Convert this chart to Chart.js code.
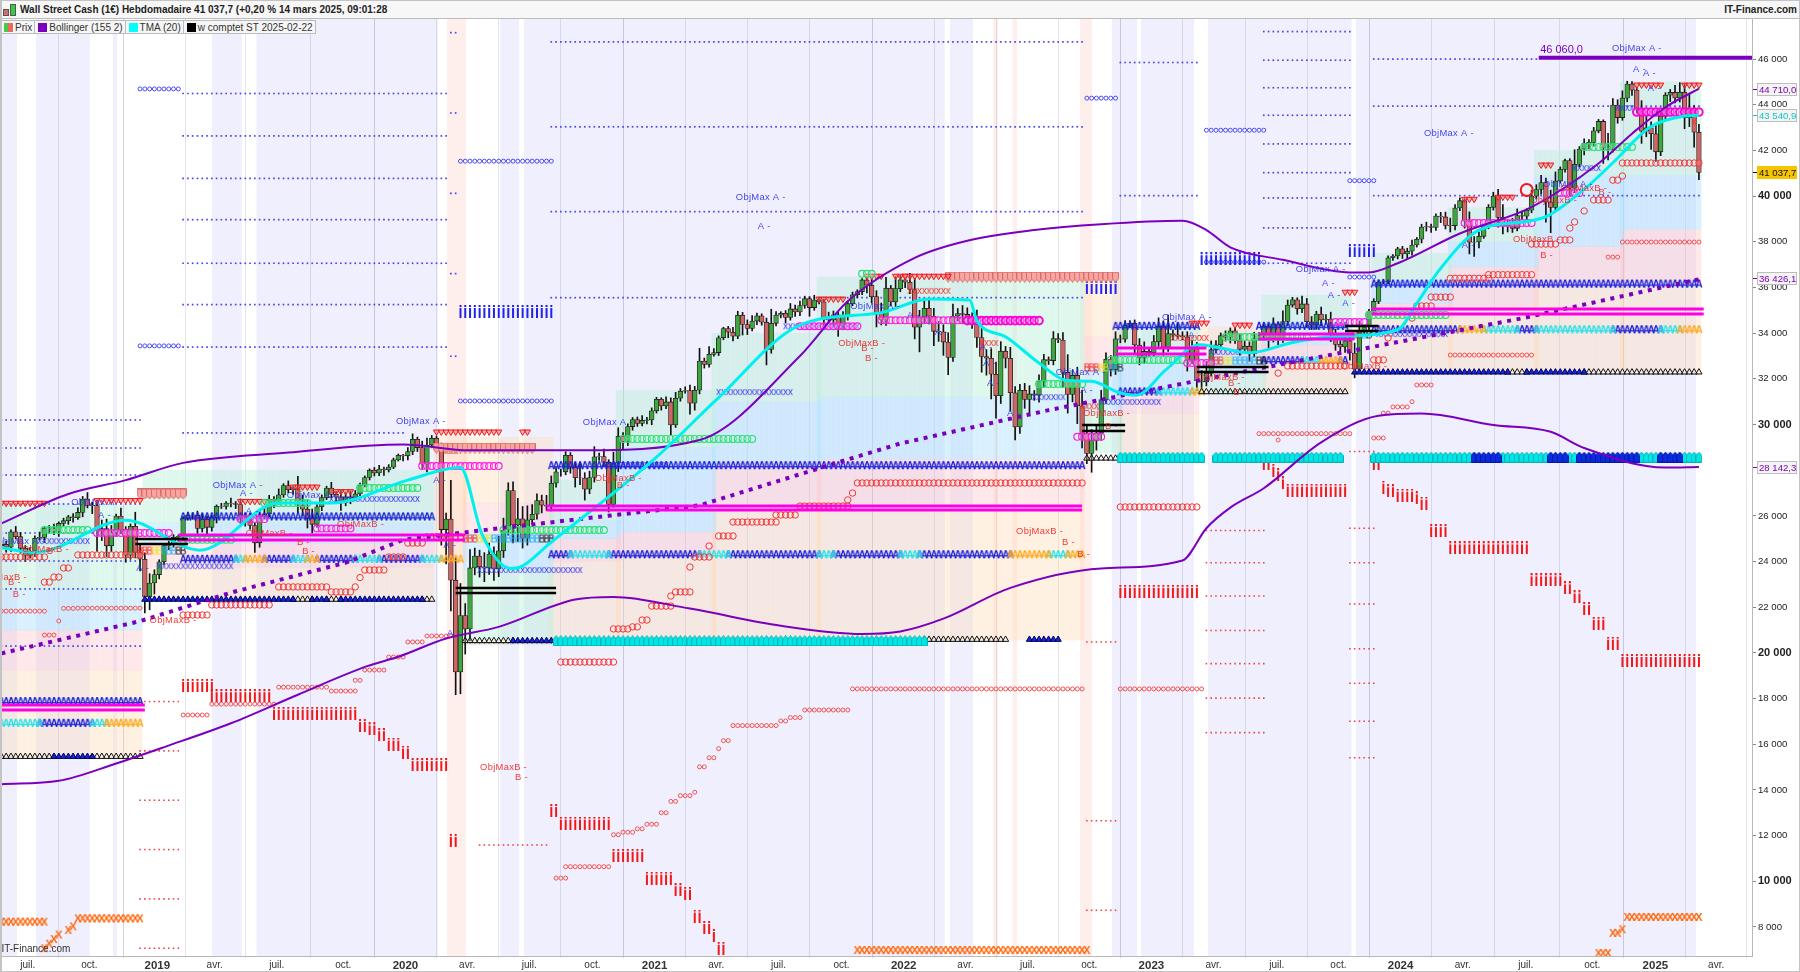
<!DOCTYPE html>
<html lang="fr">
<head>
<meta charset="utf-8">
<title>Wall Street Cash (1€) Hebdomadaire</title>
<script src="https://cdn.jsdelivr.net/npm/chart.js@4"></script>
<style>
html, body { margin: 0; padding: 0; background: #fff; overflow: hidden; }
body { width: 1800px; height: 972px; position: relative; font-family: "Liberation Sans", Arial, sans-serif; }
#myChart { position: absolute; left: 0; top: 0; }
#frame { position: absolute; left: 0; top: 0; height: 970px; border: 1px solid #c4c4c4; border-left-width: 2px; pointer-events: none; box-sizing: content-box; width: 1797px; }
#titleBar { position: absolute; left: 0; top: 0; width: 1800px; height: 19px; box-sizing: border-box; background: #f7f7f7; border-top: 1px solid #bbb; border-bottom: 1px solid #bbb; font-size: 10px; font-weight: bold; color: #222; line-height: 18px; }
#titleText { position: absolute; left: 20px; top: 0; white-space: nowrap; }
#siteText { position: absolute; right: 3px; top: 0; }
.candleIcon { position: absolute; width: 4px; border: 1px solid #555; }
#legendRow { position: absolute; left: 1px; top: 20px; height: 14px; display: flex; font-size: 10px; color: #333; line-height: 13px; }
.legendCell { background: #f6f6f6; border: 1px solid #bbb; border-left: 0; padding: 0 2px 0 3px; white-space: nowrap; }
.swatch { display: inline-block; width: 9px; height: 9px; margin-right: 2px; vertical-align: -1px; }
</style>
</head>
<body>
<canvas id="myChart" width="1800" height="972"></canvas>
<div id="titleBar">
  <span class="candleIcon" style="left:3px;top:8px;height:5px;background:#d96a6a"></span>
  <span class="candleIcon" style="left:10px;top:3px;height:10px;background:#33cc44"></span>
  <span id="titleText">Wall Street Cash (1€) Hebdomadaire 41 037,7 (+0,20 % 14 mars 2025, 09:01:28</span>
  <span id="siteText">IT-Finance.com</span>
</div>
<div id="legendRow">
  <div class="legendCell"><span class="swatch" style="background:linear-gradient(90deg,#4c4 50%,#e66 50%)"></span>Prix</div>
  <div class="legendCell"><span class="swatch" style="background:#7b00bd"></span>Bollinger (155 2)</div>
  <div class="legendCell"><span class="swatch" style="background:#00ffff"></span>TMA (20)</div>
  <div class="legendCell"><span class="swatch" style="background:#000"></span>w comptet ST 2025-02-22</div>
</div>
<div id="frame"></div>
<script>
// Weekly candles from 18 May 2018 to 14 March 2025, x axis counts weeks
var candleClose = [
24700,24750,24630,25300,25090,24580,24270,24450,25020,25060,25450,25460,25310,25670,25790,25960,25920,26150,26740,26460,26450,25340,25440,24690,25270,25990,25410,24280,25540,24390,24100,22450,23060,
23430,23990,24700,24730,25060,25100,25880,26030,26030,25450,25850,25500,25930,26420,26410,26560,26540,26500,25940,25760,25580,24820,25980,26090,26720,26600,26920,27330,27150,27190,26480,26290,25890,25630,26400,26800,27220,26940,26820,26570,26820,26770,26960,27350,27680,28000,27880,28050,28010,28135,28450,28650,
28630,28820,29350,28990,28260,29100,29400,28990,25400,25860,23185,19170,21640,21050,23720,24240,23770,23720,24330,23680,24470,25380,27110,25600,25870,25020,25830,26070,26670,26470,26430,27430,27930,27930,28650,28130,27670,27660,27170,27680,28590,28600,28340,26500,28320,29480,29260,29910,30220,30050,30180,30200,
30600,31100,30810,30990,29980,31150,31460,31490,30930,31500,32780,32630,33070,33150,33800,34200,34040,33870,34780,34380,34210,34530,34760,34480,33290,34430,34790,34870,34690,35060,34930,35210,35510,35120,35450,35370,34610,34580,34800,34320,34750,35290,35680,35820,36330,36100,35600,34900,34580,35970,35370,35950,36340,
36230,35910,34260,34720,35090,34740,34080,34060,33610,32940,34750,34860,34820,34720,34450,33810,32980,32900,32200,31260,33210,32900,31390,29890,31500,31100,31340,31290,31900,32840,32800,33760,33700,32280,31320,32150,30820,29590,28730,29300,29630,31080,32860,32400,33750,33740,34350,34430,33480,32920,33200,33150,
33630,34300,33380,33980,33930,33870,33830,32820,33390,31910,31860,32240,33270,33490,33890,33810,34100,33670,33300,33430,33090,33760,33880,34300,33730,34410,33730,34510,35230,35460,35070,35280,34500,34350,34840,34580,34620,33960,33510,33400,33670,33130,32420,34060,34280,34950,35390,36240,36250,37300,37380,37690,
37470,37590,37860,38110,38650,38670,38630,39130,39090,38720,38710,39480,39800,38900,37980,37990,38240,38680,39510,40000,39070,38690,38800,38590,39150,39120,39380,40000,40290,40590,39740,39500,40660,41170,41560,40350,41390,42060,42310,42350,42860,43270,42110,42050,43990,43440,44290,44910,44640,43830,42840,42990,
42730,41940,43490,44420,44540,44300,44550,43430,43840,42800,41037
];
var candleOpen = [
24600,24700,24750,24630,25300,25090,24580,24270,24450,25020,25060,25450,25460,25310,25670,25790,25960,25920,26150,26740,26460,26450,25340,25440,24690,25270,25990,25410,24280,25540,24390,24100,22450,
23060,23430,23990,24700,24730,25060,25100,25880,26030,26030,25450,25850,25500,25930,26420,26410,26560,26540,26500,25940,25760,25580,24820,25980,26090,26720,26600,26920,27330,27150,27190,26480,26290,25890,25630,26400,26800,27220,26940,26820,26570,26820,26770,26960,27350,27680,28000,27880,28050,28010,28135,28450,
28650,28630,28820,29350,28990,28260,29100,29400,28990,25400,25860,23185,19170,21640,21050,23720,24240,23770,23720,24330,23680,24470,25380,27110,25600,25870,25020,25830,26070,26670,26470,26430,27430,27930,27930,28650,28130,27670,27660,27170,27680,28590,28600,28340,26500,28320,29480,29260,29910,30220,30050,30180,
30200,30600,31100,30810,30990,29980,31150,31460,31490,30930,31500,32780,32630,33070,33150,33800,34200,34040,33870,34780,34380,34210,34530,34760,34480,33290,34430,34790,34870,34690,35060,34930,35210,35510,35120,35450,35370,34610,34580,34800,34320,34750,35290,35680,35820,36330,36100,35600,34900,34580,35970,35370,35950,
36340,36230,35910,34260,34720,35090,34740,34080,34060,33610,32940,34750,34860,34820,34720,34450,33810,32980,32900,32200,31260,33210,32900,31390,29890,31500,31100,31340,31290,31900,32840,32800,33760,33700,32280,31320,32150,30820,29590,28730,29300,29630,31080,32860,32400,33750,33740,34350,34430,33480,32920,33200,
33150,33630,34300,33380,33980,33930,33870,33830,32820,33390,31910,31860,32240,33270,33490,33890,33810,34100,33670,33300,33430,33090,33760,33880,34300,33730,34410,33730,34510,35230,35460,35070,35280,34500,34350,34840,34580,34620,33960,33510,33400,33670,33130,32420,34060,34280,34950,35390,36240,36250,37300,37380,
37690,37470,37590,37860,38110,38650,38670,38630,39130,39090,38720,38710,39480,39800,38900,37980,37990,38240,38680,39510,40000,39070,38690,38800,38590,39150,39120,39380,40000,40290,40590,39740,39500,40660,41170,41560,40350,41390,42060,42310,42350,42860,43270,42110,42050,43990,43440,44290,44910,44640,43830,42840,
42990,42730,41940,43490,44420,44540,44300,44550,43430,43840,42800
];
var candleWickUp = [
120,200,150,90,240,180,120,160,110,230,90,120,180,70,110,60,140,200,110,280,130,240,380,420,310,90,350,120,110,620,340,280,410,
210,90,70,160,120,60,90,140,110,180,230,150,90,60,130,70,220,90,240,180,320,150,310,240,180,120,260,80,200,120,540,430,380,410,90,120,80,250,130,310,200,280,150,90,70,60,120,160,90,110,80,60,50,
170,240,100,280,310,120,90,200,260,1700,980,1400,520,800,350,260,620,480,310,640,520,340,380,900,540,610,420,290,240,430,320,180,120,160,120,210,650,230,280,440,150,320,120,470,380,170,120,90,110,210,120,130,
90,70,220,180,260,120,160,240,170,560,130,340,180,80,60,100,220,180,130,200,240,120,90,180,620,150,70,120,240,170,190,110,90,210,120,110,310,170,120,190,130,120,80,60,110,260,260,420,470,120,520,190,90,
390,480,280,430,430,350,440,310,410,520,220,350,290,170,560,570,300,420,530,420,210,480,270,260,300,360,150,280,230,120,310,220,330,780,230,360,680,340,480,370,420,280,160,310,170,200,120,150,280,420,180,270,
370,240,810,170,520,190,230,280,210,460,530,390,180,120,210,130,130,270,210,190,280,140,130,110,260,90,470,220,110,90,340,240,230,120,300,190,300,210,160,220,260,440,480,70,90,120,90,110,90,60,70,110,
130,210,80,120,190,110,90,160,210,320,150,120,90,410,240,190,100,120,170,300,560,170,230,290,190,70,260,210,320,200,520,400,110,60,80,640,110,200,130,150,90,70,640,280,230,320,120,110,130,350,560,260,
360,240,110,130,310,420,380,620,120,340,90
];
var candleWickDown = [
160,110,220,190,100,210,260,130,240,70,220,180,130,210,120,160,200,80,190,110,350,900,420,480,260,180,200,310,180,220,510,700,560,
480,190,110,180,100,160,130,70,180,220,160,340,170,240,90,120,150,180,260,210,160,420,190,120,130,240,90,110,140,210,340,300,420,380,130,170,90,150,280,330,130,240,100,70,80,110,130,120,240,90,70,50,
220,180,140,170,190,340,120,160,680,1500,1350,1000,960,1100,530,300,450,600,280,510,340,290,220,780,720,430,300,190,210,340,190,210,170,190,130,260,410,290,480,200,200,160,180,330,120,380,340,180,160,130,110,150,
210,100,180,120,420,110,130,90,480,300,160,160,120,80,130,90,240,210,110,460,270,110,160,130,680,170,110,120,240,120,200,160,120,380,120,90,280,120,310,460,140,180,90,120,140,340,280,630,220,240,160,200,130,
240,180,510,1080,280,340,630,420,580,760,180,220,390,350,240,430,690,740,1080,980,340,420,810,560,280,390,620,230,310,240,170,190,120,640,820,330,780,620,440,820,420,320,160,280,210,160,130,110,380,310,220,190,
160,210,340,180,230,110,120,480,170,420,280,170,120,130,110,160,240,120,260,170,320,130,80,110,390,120,310,130,180,90,240,170,240,190,180,260,170,330,260,280,240,310,380,120,110,130,140,100,70,80,110,130,
200,210,180,90,160,180,220,130,250,160,280,190,120,300,510,620,260,90,110,120,430,350,260,180,110,140,150,110,130,200,880,1100,120,90,120,320,200,110,260,240,160,90,680,470,130,250,120,160,230,190,530,240,
690,420,170,130,280,220,180,480,390,660,320
];

var xTickWeeks = [6.5,19.4,33.6,45.6,58.6,72.5,85.5,98.4,111.4,124.6,137.6,150.5,163.5,176.7,189.7,202.6,215.6,228.5,241.5,254.5,267.7,280.6,293.6,306.6,319.8,333.7,346.9,359.6];
var xTickLabels = ['juil.','oct.','2019','avr.','juil.','oct.','2020','avr.','juil.','oct.','2021','avr.','juil.','oct.','2022','avr.','juil.','oct.','2023','avr.','juil.','oct.','2024','avr.','juil.','oct.','2025','avr.'];
var yTickValues = [8000,10000,12000,14000,16000,18000,20000,22000,24000,26000,30000,32000,34000,36000,38000,40000,42000,44000,46000];
var yTickLabels = ['8 000','10 000','12 000','14 000','16 000','18 000','20 000','22 000','24 000','26 000','30 000','32 000','34 000','36 000','38 000','40 000','42 000','44 000','46 000'];
var yBoldTicks = [10000,20000,30000,40000];

var bollUpperWeeks = [1,15,27,39,61,85,99,123,147,168,178,192,203,217,231,248,253,258,269,283,287,293,306,321,335,342,349,356];
var bollUpperValues = [25670,26960,27565,28320,28770,29120,28870,28870,29320,33000,35400,37300,38050,38515,38770,38920,38515,37760,37210,36660,36660,37060,38365,39520,41430,42735,43890,44710];
var bollLowerWeeks = [1,13,25,35.5,49,63,77.5,84,94,105,121,129,145,164,181,189,198,212,231,248,253,258,265,277,289,298,313,325,332,349,356];
var bollLowerValues = [14250,14400,15160,15910,16920,18170,19420,19830,20630,21140,22340,22450,21940,21190,20830,20940,21500,22850,23700,24050,25460,26360,27210,29220,30380,30480,29980,29680,28970,28120,28142];
var bollMiddleWeeks = [1,30,49,73,85,105,147,178,189,220,265,319,356];
var bollMiddleValues = [19980,21390,22640,23950,24950,25456,26460,28470,29170,30630,32490,34650,36360];
var tmaWeeks = [1,8,27,42.5,59,70,86,97,101.5,107.5,109.4,115.7,138,150.5,168,185,195,203.5,205,211,218,223.7,229,235,238.3,244.5,251.5,255,262,271,279,293,297,301.7,310,321,324.7,332.4,338.6,345.6,352.5,356];
var tmaValues = [24600,24400,25810,24500,26560,26560,27565,28120,25200,23700,23750,24800,28570,31080,34350,34900,35500,35450,34550,33840,32690,31940,31890,31380,31280,32390,33490,33390,33140,33590,33840,34150,35300,36760,38515,38920,39170,40370,41580,42990,43490,43540];

// Vertical shaded periods, week from and to
var lavenderBands = [[1.1,4.3],[8.2,19.5],[24.3,25.2],[45,51.3],[54.3,92.3],[105.3,109.3],[110.3,198.3],[199.4,204.2],[233.2,238.5],[239.3,250.4],[253.3,283.4],[284.3,355.4]];
var pinkBands = [[94.2,98.2],[208.4,209.4],[212.4,213.4],[226.5,229.1]];

// Columns of the zones: week from, week to, upper price, lower price
var zoneGreen = [[1,30,26500,22750],[31,91,28000,25690],[98,116,23630,20350],[116,130,27570,25820],[130,150,31500,29000],[150,172,34000,31000],[172,227,36460,31200],[228,235,30500,28750],[235,251,34360,32950],[251,265,32170,31290],[265,283,35670,34050],[288,304,37500,36300],[304,322,39500,38000],[322,340,42000,40900],[340,356,45000,40900]];
var zoneBlue = [[1,30,22750,21000],[31,91,25690,24810],[98,116,25250,23630],[116,130,25820,25000],[130,150,29000,25300],[150,172,31000,28350],[172,227,31200,28490],[228,235,32470,30500],[235,251,32950,31380],[251,265,33040,32170],[265,283,34050,33480],[288,304,36300,35300],[304,322,38000,36900],[322,340,40900,37800],[340,356,40900,38560]];
var zonePink = [[1,30,21000,19250],[31,91,24810,23760],[98,116,26560,25250],[116,130,25000,24000],[130,150,25300,24200],[150,172,28350,26260],[172,227,28490,26210],[228,235,33830,32470],[235,251,31380,30500],[251,265,33570,33040],[265,283,33480,32820],[288,304,35300,34800],[304,322,36900,35200],[322,340,37800,36000],[340,356,38560,36300]];
var zoneOrange = [[1,30,19250,15440],[31,91,23760,22320],[92,98,29450,24000],[98,116,29450,26560],[116,130,24000,20570],[130,150,24200,20570],[150,172,26260,20570],[172,227,26210,20570],[228,235,36630,33830],[235,251,30500,28750],[251,265,34270,33570],[265,283,32820,31380],[288,304,34800,32300],[304,322,35200,32300],[322,340,36000,32300],[340,356,36300,32300]];

// Runs of marks: week from, week to, price
var blueLevelRuns = [[1,30,30198],[1,30,28972],[1,30,27790],[1,30,26520],[1,30,25250],[1,30,24024],[1,30,22800],[1,30,20300],
  [39,94,44493],[39,94,42635],[39,94,40776],[39,94,38968],[39,94,37060],[39,94,35251],[39,94,33392],[39,85,29630],
  [95,96,47155],[95,96,43640],[95,96,40123],[95,96,36607],[95,96,32990],
  [116,227,46753],[116,227,43036],[116,227,39319],[116,227,35552],[235,251,45850],[235,251,40020],
  [265,283,47205],[265,283,45950],[265,283,44745],[265,283,43540],[265,283,42284],[265,283,41027],[265,283,39920],[265,283,38610],[253,283,37060],
  [288,322,46000],[288,356,43940],[288,356,40020]];
var redLevelRuns = [[30,38,17870],[30,38,15710],[30,38,13550],[30,38,11390],[30,38,9230],[30,38,7070],[101,115,11590],[97,116,20430],
  [228,234,20480],[228,234,12650],[228,234,8730],[253,265,25360],[253,265,23950],[253,265,22490],[253,265,20985],[253,265,19530],[253,265,18020],[253,265,16510],
  [283,288,25455],[283,288,23950],[283,288,22140],[283,288,20180],[283,288,18670],[283,288,17010],[283,288,15410],[283,288,28820]];
var blueSmallO = [[30,38,44694],[30,38,33443],[97,116,41530],[97,116,31030],[228,234,44290],[253,265,42886],[283,288,40676],[253,265,37110],[283,288,36456]];
var blueI = [[97,116,34950],[228,234,36000],[252,264,37260],[283,288,37610]];
var navyA = [[116,227,28200],[39,91,25958],[1,30,17870],[288,356,36150],[234,251,34300],[264,282,34300],
  [116,120,24300],[128,147,24300],[153,172,24300],[175,189,24300],[193,212,24300],[39,50,24100],[56,62,24100],[67,75,24100],[80,89,24100],[9,20,16920],[235,243,31430],[288,306,34150],[318,322,34150],[338,348,34150],[265,273,32800],[281,282,32800]];
var cyanA = [[120,128,24300],[147,153,24300],[172,175,24300],[189,193,24300],[220,224,24300],[50,52,24100],[62,65,24100],[75,80,24100],[89,93,24100],[1,9,16920],[20,23,16920],[243,250,31430],[311,318,34150],[322,338,34150],[348,352,34150],[273,277,32800]];
var orangeA = [[212,220,24300],[224,227,24300],[52,56,24100],[65,67,24100],[93,97,24100],[23,30,16920],[250,252,31430],[306,311,34150],[352,356,34150],[277,281,32800]];
var blackTri = [[1,12,15460],[20,30,15460],[62,66,22340],[69,72,22340],[89,91,22340],[98,108,20530],[194,208,20585],[209,211,20585],[252,282,31430],[228,235,28520],[316,320,32290],[332,356,32290]];
var navyTri = [[12,20,15460],[31,62,22340],[66,69,22340],[72,89,22340],[108,116,20530],[216,222,20585],[284,316,32290],[320,332,32290]];
var cyanHouse = [[117,194,20530],[235,252,28570],[255,281,28570],[288,309,28570],[314,325,28570],[328,331,28570],[343,348,28570],[352,356,28570]];
var navyHouse = [[309,314,28570],[325,328,28570],[331,343,28570],[348,352,28570]];
var salmonHouse = [[30,39,26960],[92,112,28970],[199,234,36456]];
var redDownTri = [[1,10,26560],[21,30,26680],[51,56,26640],[62,67,27270],[71,74,27070],[92,105,29680],[110,111,29680],[172,177,35500],[182,185,36500],[188,190,36500],[190,199,36500],[250,253,34450],[282,284,35800],[259,262,34360],[307,309,39870],[314,317,39960],[323,325,41370],[343,348,44870],[353,356,44870]];
var redSmallO = [[1,10,21830],[10,12,20780],[13,13,21400],[14,16,21950],[17,30,21960],[39,44,17280],[45,58,17760],[59,69,18500],[70,75,18330],[75,76,18800],[77,81,19250],[82,85,19820],[86,89,20480],[90,96,20740],
  [117,119,10140],[119,128,10640],[129,130,12040],[131,133,12150],[134,135,12300],[136,138,12500],[139,140,13000],[141,142,13500],[143,145,13750],[146,146,13900],[147,148,15010],[149,150,15410],[151,151,15810],[152,153,16160],[154,163,16820],[164,165,17020],[166,168,17170],[169,178,17500],[179,227,18424],
  [235,252,18424],[264,283,29600],[268,268,29320],[288,290,29410],[290,291,30500],[292,295,30770],[296,296,31000],[297,300,31730],[304,321,33040],[337,339,37330],[340,356,37990]];
var redBigO = [[1,10,24200],[10,11,23100],[12,13,23320],[14,15,23720],[17,30,24290],[39,44,21660],[45,57,22100],[59,69,22890],[70,74,22670],[75,75,22890],[76,76,23300],[77,81,23630],[82,85,24200],[86,89,24810],[90,97,25080],
  [118,129,19600],[129,132,21050],[133,134,21140],[135,136,21440],[137,141,22050],[141,141,22490],[142,145,22670],[145,145,23760],[146,149,24200],[149,149,24680],[151,154,25120],[154,163,25730],[163,167,26040],[168,178,26430],[178,178,26700],[179,179,27000],[180,227,27440],
  [235,251,26390],[268,268,32250],[270,282,32560],[288,290,32830],[291,291,33790],[296,296,34660],[297,300,35190],[300,304,35580],[304,312,36400],[312,321,36560],[321,326,37900],[327,329,38080],[329,329,38600],[330,330,38870],[332,332,39350],[334,337,39830],[338,339,40700],[340,340,40880],[340,356,41450]];
var redRing = [[320,320,40270]];
var redI = [[39,45,18580],[45,57,18130],[58,75,17360],[76,77,16820],[78,79,16670],[80,81,16420],[82,84,16010],[85,86,15660],[87,94,15110],[95,96,11790],[116,117,13100],[118,128,12550],[129,135,11140],[136,141,10140],[142,143,9630],[144,145,9480],[146,147,8480],[148,149,7980],[150,150,7630],[151,152,7070],
  [235,251,22700],[265,266,28300],[267,267,28000],[268,268,27800],[269,269,27440],[270,282,27130],[288,289,28300],[290,290,27260],[291,292,27100],[293,296,26910],[297,297,26790],[298,299,26560],[300,303,25355],[304,320,24600],[321,327,23200],[328,329,22850],[330,331,22450],[332,333,21940],[334,336,21300],[337,339,20430],[340,356,19670]];
var orangeX = [[1,10,8230],[10,10,7070],[11,11,7270],[12,12,7470],[13,13,7670],[15,15,7870],[16,16,8030],[17,30,8380],[180,228,6990],[335,337,6860],[338,339,7740],[340,340,7900],[341,356,8440]];
var blueX = [[9,19,24900],[34,49,23800],[70,88,26740],[101,122,23630],[129,140,28230],[151,166,31420],[165,180,34300],[217,223,31200],[231,243,30990],[254,260,33180],[289,303,33960],[330,335,41230],[339,342,43860]];
var redX = [[93,96,28840],[191,199,35850],[206,209,33570],[227,230,30800],[246,253,33790],[355,355,43250]];
var magentaO = [[21,36,25250],[51,56,25860],[67,74,25450],[89,105,28180],[168,180,34300],[185,203,34560],[226,231,29460],[249,254,32690],[280,286,34490],[307,321,38820],[327,331,40140]];
var magentaBoldO = [[203,218,34550],[343,356,43680]];
var greenO = [[10,19,25380],[39,49,24950],[56,65,26560],[76,88,27220],[106,127,25380],[131,158,29370],[181,183,36600],[218,227,31770],[233,248,32830],[257,274,33830],[287,303,34800],[332,342,42150]];

// Letter B runs just under the magenta lines
var redB = [[30,32,24460],[98,100,24990],[228,230,32480],[254,256,32780],[284,285,33920]];
var yellowB = [[33,34,24460],[101,103,24990],[231,232,32480],[257,258,32780]];
var skyB = [[35,37,24460],[104,113,24990],[233,234,32480],[259,263,32780],[286,286,33920]];
var blackB = [[38,39,24460],[114,116,24990],[235,235,32480],[264,265,32780],[287,287,33920]];

// Long horizontal lines: week from, week to, price
var magentaLines = [[115,227,26430],[115,227,26260],[38,98,25160],[38,98,24940],[1,31,17720],[1,31,17500],[234,253,33350],[234,253,33090],[264,284,33960],[264,284,33740],[287.5,357,35060],[287.5,357,34840]];
var blackLines = [[29,40,24990],[29,40,24770],[96,117,22840],[96,117,22620],[227,236,29980],[227,236,29720],[251,266,32520],[251,266,32300],[282,289,34310],[282,289,34100]];
var targetLine = [322.5,367.1,46060];

// Texts on the chart: week, price, text
var blueTexts = [[154.6,39960,'ObjMax A -'],[159.2,38690,'A -'],[83.5,30150,'ObjMax A -'],[45.2,27350,'ObjMax A -'],[50.9,27000,'A -'],[60.7,26910,'ObjMax A -'],[15.6,26600,'ObjMax A -'],[21.2,26000,'A -'],[29.2,23720,'A -'],[52.1,26210,'A -'],[93.4,24720,'A -'],[94.2,20870,'A -'],[91.3,27570,'A -'],[122.6,30110,'ObjMax A -'],[178.5,35190,'ObjMax A -'],[190.4,34790,'A -'],[196.2,34050,'A -'],[205.6,33390,'A -'],[206.3,32690,'A -'],[207.1,31820,'A -'],[211.3,30500,'A -'],[221.5,32300,'ObjMax A -'],[226.6,31510,'A -'],[243.7,34710,'ObjMax A -'],[249.2,33920,'A -'],[271.7,36810,'ObjMax A -'],[277.2,36190,'A -'],[278.4,35670,'A -'],[281.4,35320,'A -'],[298.5,42760,'ObjMax A -'],[306.4,37860,'A -'],[337.8,46480,'ObjMax A -'],[342.2,45560,'A -'],[344.3,45390,'A -'],[345.3,44730,'A -'],[323.4,40530,'ObjMax A -'],[-0.3,24900,'ObjMax A -']];
var redTexts = [[-3.5,23320,'ObjMaxB -'],[2.4,23100,'B -'],[3.4,22580,'B -'],[5.3,24550,'ObjMaxB -'],[10.5,24460,'B -'],[32,21440,'ObjMaxB -'],[71.2,25640,'ObjMaxB -'],[52.1,25250,'ObjMaxB -'],[62.8,24850,'B -'],[63.9,24460,'B -'],[125.1,27660,'ObjMaxB -'],[129.7,27350,'B -'],[176,33570,'ObjMaxB -'],[180.8,33350,'B -'],[181.6,32910,'B -'],[227.2,30500,'ObjMaxB -'],[231.8,29930,'B -'],[251.2,32080,'ObjMaxB -'],[257.5,31820,'B -'],[258.6,31420,'B -'],[281,32560,'ObjMaxB -'],[101.1,15000,'ObjMaxB -'],[108.4,14570,'B -'],[213.2,25340,'ObjMaxB -'],[222.8,24860,'B -'],[226,24330,'B -'],[317.1,38120,'ObjMaxB -'],[322.8,37420,'B -'],[320.7,39830,'ObjMaxB -'],[327,40350,'ObjMaxB -'],[335,40180,'B -']];
var targetText = [322.8,46420,'46 060,0'];
var watermarkText = [1,7020,'IT-Finance.com'];

// Value tags on the right axis
var tagValues = [44710,43540.9,41037.7,36426.1,28142.3];
var tagLabels = ['44 710,0','43 540,9','41 037,7','36 426,1','28 142,3'];

var WEEK_MIN = 0.71, WEEK_MAX = 367.1, PRICE_MIN = 6730, PRICE_MAX = 47755;
var FONT = '"Liberation Sans", Arial, sans-serif';
var COL_BOLL = '#7b00bd', COL_TMA = '#00f0f0';

var datasets = [];
function addDataset(ds) {
    ds.order = -datasets.length;
    datasets.push(ds);
}

// one point per week of a run
function expandRuns(runs) {
    var points = [];
    runs.forEach(function(run) {
        for (var w = Math.ceil(run[0]); w <= Math.floor(run[1]); w++) {
            points.push({ x: w, y: run[2] });
        }
    });
    return points;
}
function addMarks(runs, style, radius, stroke, fill, lineWidth, rotation) {
    addDataset({ type: 'scatter', data: expandRuns(runs), pointStyle: style, pointRadius: radius, pointBorderColor: stroke,
        pointBackgroundColor: fill, pointBorderWidth: lineWidth, rotation: rotation || 0 });
}
function makeGlyph(w, h, drawIt) {
    var c = document.createElement('canvas');
    c.width = w; c.height = h;
    drawIt(c.getContext('2d'), w, h);
    return c;
}
function textGlyph(ch, color, font, w, h) {
    return makeGlyph(w, h, function(g, gw, gh) {
        g.font = font + ' ' + FONT;
        g.fillStyle = color;
        g.textAlign = 'center';
        g.textBaseline = 'middle';
        g.fillText(ch, gw / 2, gh / 2 + 0.5);
    });
}
function stickGlyph(color) {
    return makeGlyph(4, 13, function(g) {
        g.fillStyle = color;
        g.fillRect(1, 0, 2, 2);
        g.fillRect(1, 3, 2, 10);
    });
}
function houseGlyph(fill, edge, flip) {
    return makeGlyph(7, 11, function(g) {
        if (flip) { g.translate(0, 11); g.scale(1, -1); }
        g.fillStyle = fill; g.strokeStyle = edge; g.lineWidth = 1;
        g.beginPath(); g.moveTo(0.5, 10.5); g.lineTo(0.5, 4); g.lineTo(3.5, 0.5); g.lineTo(6.5, 4); g.lineTo(6.5, 10.5); g.closePath();
        g.fill(); g.stroke();
    });
}
function addBand(band, color) {
    addDataset({ type: 'line', data: [{ x: band[0], y: PRICE_MAX }, { x: band[1], y: PRICE_MAX }], fill: 'start',
        backgroundColor: color, borderWidth: 0, pointRadius: 0 });
}
function addZone(rows, color) {
    var data = [];
    rows.forEach(function(r) {
        for (var w = Math.ceil(r[0]); w <= Math.floor(r[1]); w++) data.push({ x: w, y: [r[3], r[2]] });
    });
    addDataset({ type: 'bar', data: data, backgroundColor: color, barThickness: 4.1, grouped: false, borderWidth: 0 });
}
function addLine(weeks, values, color, width, extra) {
    var ds = { type: 'line', data: weeks.map(function(w, i) { return { x: w, y: values[i] }; }), borderColor: color, borderWidth: width,
        pointRadius: 0, fill: false, cubicInterpolationMode: 'monotone' };
    Object.assign(ds, extra || {});
    addDataset(ds);
}
function addFlatLine(run, color, width) {
    addDataset({ type: 'line', data: [{ x: run[0], y: run[2] }, { x: run[1], y: run[2] }], borderColor: color, borderWidth: width, pointRadius: 0, fill: false });
}

lavenderBands.forEach(function(b) { addBand(b, 'rgba(100,100,235,0.105)'); });
pinkBands.forEach(function(b) { addBand(b, 'rgba(250,120,110,0.13)'); });

addZone(zoneOrange, 'rgba(255,215,170,0.34)');
addZone(zonePink, 'rgba(255,190,195,0.36)');
addZone(zoneBlue, 'rgba(175,225,255,0.48)');
addZone(zoneGreen, 'rgba(185,240,215,0.46)');

addMarks(blueLevelRuns, 'rect', 1.2, '#4848f4', '#4848f4', 0);
addMarks(redLevelRuns, 'rect', 1.1, '#f04040', '#f04040', 0);

addMarks(blueSmallO, 'circle', 2, '#4a4af0', 'rgba(255,255,255,0.3)', 1);
addMarks(redSmallO, 'circle', 2, '#f25050', 'rgba(255,255,255,0.2)', 1);
addMarks(orangeX, textGlyph('X', '#ff6a10', 'bold 11px', 10, 12), 4, '#ff6a10', '#ff6a10', 0);
addMarks(blueI, stickGlyph('#2222ee'), 4, '#2222ee', '#2222ee', 0);
addMarks(redI, stickGlyph('#f01818'), 4, '#f01818', '#f01818', 0);

// wicks and bodies of the candles
addDataset({ type: 'bar', grouped: false, barThickness: 1, backgroundColor: '#111', borderWidth: 0,
    data: candleClose.map(function(c, i) {
        return { x: i, y: [Math.min(candleOpen[i], c) - candleWickDown[i], Math.max(candleOpen[i], c) + candleWickUp[i]] };
    }) });
addDataset({ type: 'bar', grouped: false, barThickness: 4.7, borderColor: '#222', borderWidth: 0.8, borderSkipped: false,
    backgroundColor: candleClose.map(function(c, i) { return c >= candleOpen[i] ? '#3fa53f' : '#cf6464'; }),
    data: candleClose.map(function(c, i) { return { x: i, y: [candleOpen[i], c] }; }) });

addMarks(blueX, textGlyph('x', '#3c3cee', '10px', 7, 10), 3, '#000', '#000', 0);
addMarks(redX, textGlyph('x', '#ee3030', '10px', 7, 10), 3, '#000', '#000', 0);
addMarks(navyA, textGlyph('A', '#1a20d8', 'bold 10px', 8, 11), 3, '#000', '#000', 0);
addMarks(cyanA, textGlyph('A', '#28e0e8', 'bold 10px', 8, 11), 3, '#000', '#000', 0);
addMarks(orangeA, textGlyph('A', '#ffaa22', 'bold 10px', 8, 11), 3, '#000', '#000', 0);
addMarks(blackTri, 'triangle', 3.6, '#111', 'rgba(255,235,215,0.35)', 1);
addMarks(navyTri, 'triangle', 3.6, '#000060', '#1628d8', 1);
addMarks(cyanHouse, houseGlyph('#00e6e6', '#05b5b5', false), 4, '#000', '#000', 0);
addMarks(navyHouse, houseGlyph('#0a2ce0', '#0618a8', false), 4, '#000', '#000', 0);
addMarks(salmonHouse, houseGlyph('#f6a5a0', '#d96a68', true), 4, '#000', '#000', 0);
addMarks(redDownTri, 'triangle', 3.6, '#f01818', 'rgba(255,110,110,0.55)', 1, 180);
addMarks(redB, textGlyph('B', '#f02020', '10px', 8, 11), 3, '#000', '#000', 0);
addMarks(yellowB, textGlyph('B', '#f0e020', '10px', 8, 11), 3, '#000', '#000', 0);
addMarks(skyB, textGlyph('B', '#22a8f0', '10px', 8, 11), 3, '#000', '#000', 0);
addMarks(blackB, textGlyph('B', '#111111', '10px', 8, 11), 3, '#000', '#000', 0);

addMarks(redBigO, 'circle', 3.2, '#f23434', 'rgba(255,255,255,0.15)', 1);
addMarks(redRing, 'circle', 6, '#f01818', 'rgba(255,255,255,0.1)', 2);
addMarks(greenO, 'circle', 3.4, '#25e070', 'rgba(255,255,255,0.2)', 1.2);
addMarks(magentaO, 'circle', 3.4, '#ff18e0', 'rgba(255,255,255,0.3)', 1.2);
addMarks(magentaBoldO, 'circle', 3.8, '#ff00d8', 'rgba(255,255,255,0.3)', 2);

addLine(bollMiddleWeeks, bollMiddleValues, COL_BOLL, 4, { borderDash: [4, 5.6], cubicInterpolationMode: 'default', tension: 0 });
addLine(bollUpperWeeks, bollUpperValues, COL_BOLL, 2);
addLine(bollLowerWeeks, bollLowerValues, COL_BOLL, 2);
addLine(tmaWeeks, tmaValues, COL_TMA, 3);

magentaLines.forEach(function(r) { addFlatLine(r, '#ff00e6', 3); });
blackLines.forEach(function(r) { addFlatLine(r, '#000', 2.5); });
addFlatLine(targetLine, COL_BOLL, 4);

// texts and axis tags are drawn with the scales of the chart
var textPlugin = {
    id: 'chartTexts',
    afterDraw: function(chart) {
        var ctx = chart.ctx, xs = chart.scales.x, ys = chart.scales.y;
        function putTexts(list, color, font, spacing) {
            ctx.save();
            ctx.font = font + ' ' + FONT;
            ctx.fillStyle = color;
            ctx.letterSpacing = spacing;
            ctx.textBaseline = 'middle';
            ctx.textAlign = 'left';
            list.forEach(function(t) { ctx.fillText(t[2], xs.getPixelForValue(t[0]), ys.getPixelForValue(t[1])); });
            ctx.restore();
        }
        putTexts(blueTexts, 'rgba(50,50,240,0.9)', '9.4px', '0.3px');
        putTexts(redTexts, 'rgba(240,40,40,0.9)', '9.4px', '0.3px');
        putTexts([targetText], COL_BOLL, '11px', '0px');
        putTexts([watermarkText], '#333', '10px', '0px');

        tagValues.forEach(function(v, i) {
            var y = Math.round(ys.getPixelForValue(v));
            var isLast = i === 2;
            var textCol = (i === 1) ? '#12c4c4' : (isLast ? '#111' : COL_BOLL);
            ctx.save();
            ctx.strokeStyle = textCol;
            ctx.beginPath(); ctx.moveTo(1753, y + 0.5); ctx.lineTo(1757, y + 0.5); ctx.stroke();
            ctx.fillStyle = isLast ? '#f6c400' : '#f4f4f4';
            ctx.fillRect(1757, y - 6, 40, 13);
            if (!isLast) {
                ctx.strokeStyle = '#bdbdbd';
                ctx.strokeRect(1757.5, y - 5.5, 39, 12);
            }
            ctx.fillStyle = textCol;
            ctx.font = '9.6px ' + FONT;
            ctx.textBaseline = 'middle';
            ctx.fillText(tagLabels[i], 1759, y + 1);
            ctx.restore();
        });
    }
};

var myChart = new Chart(document.getElementById('myChart').getContext('2d'), {
    type: 'scatter',
    data: { datasets: datasets },
    plugins: [textPlugin],
    options: {
        responsive: false,
        animation: false,
        events: [],
        layout: { autoPadding: false, padding: { top: 19, left: 0, right: 0, bottom: 0 } },
        plugins: { legend: { display: false }, tooltip: { enabled: false } },
        scales: {
            x: {
                type: 'linear', min: WEEK_MIN, max: WEEK_MAX, offset: false,
                afterBuildTicks: function(s) { s.ticks = xTickWeeks.map(function(v) { return { value: v }; }); },
                afterFit: function(s) { s.height = 16; },
                border: { color: '#b8b8b8' },
                grid: {
                    tickLength: 2,
                    color: function(c) { return /^20/.test(xTickLabels[c.index] || '') ? '#d2d2e0' : '#e4e4ec'; }
                },
                ticks: {
                    autoSkip: false, maxRotation: 0, minRotation: 0, padding: 1, color: '#333',
                    font: function(c) {
                        var isYear = /^20/.test(xTickLabels[c.index] || '');
                        return { family: FONT, size: isYear ? 11.5 : 10, weight: isYear ? 'bold' : 'normal' };
                    },
                    callback: function(v, i) { return xTickLabels[i]; }
                }
            },
            y: {
                type: 'linear', position: 'right', min: PRICE_MIN, max: PRICE_MAX,
                afterBuildTicks: function(s) { s.ticks = yTickValues.map(function(v) { return { value: v }; }); },
                afterFit: function(s) { s.width = 48; },
                border: { color: '#b8b8b8' },
                grid: { drawOnChartArea: false, tickLength: 4, color: '#888' },
                ticks: {
                    padding: 2, color: '#222', autoSkip: false,
                    font: function(c) {
                        var bold = c.tick && yBoldTicks.indexOf(c.tick.value) >= 0;
                        return { family: FONT, size: bold ? 11 : 9.6, weight: bold ? 'bold' : 'normal' };
                    },
                    callback: function(v, i) { return yTickLabels[i]; }
                }
            }
        }
    }
});
</script>
</body>
</html>
